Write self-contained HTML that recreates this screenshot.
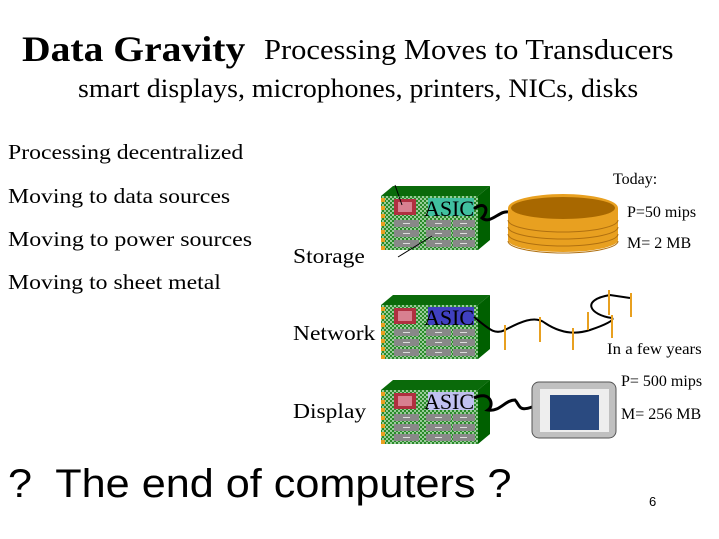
<!DOCTYPE html>
<html><head><style>
body{margin:0;width:719px;height:539px;background:#fff;position:relative;overflow:hidden;font-family:"Liberation Serif",serif;}
.t{position:absolute;white-space:nowrap;color:#000;transform-origin:0 0}
</style></head><body>
<div class="t" style="left:22px;top:28px;font-size:36px;font-weight:bold;transform:scaleX(1.1)">Data Gravity</div>
<div class="t" style="left:264px;top:35px;font-size:28px;transform:scaleX(1.09)">Processing Moves to Transducers</div>
<div class="t" style="left:78px;top:74px;font-size:26px;transform:scaleX(1.07)">smart displays, microphones, printers, NICs, disks</div>
<div class="t" style="left:8px;top:140px;font-size:21px;transform:scaleX(1.13)">Processing decentralized</div>
<div class="t" style="left:8px;top:184px;font-size:21px;transform:scaleX(1.13)">Moving to data sources</div>
<div class="t" style="left:8px;top:227px;font-size:21px;transform:scaleX(1.14)">Moving to power sources</div>
<div class="t" style="left:8px;top:270px;font-size:21px;transform:scaleX(1.13)">Moving to sheet metal</div>
<div class="t" style="left:293px;top:244px;font-size:21px;transform:scaleX(1.12)">Storage</div>
<div class="t" style="left:293px;top:321px;font-size:21px;transform:scaleX(1.12)">Network</div>
<div class="t" style="left:293px;top:399px;font-size:21px;transform:scaleX(1.12)">Display</div>
<div class="t" style="left:613px;top:171px;font-size:16px">Today:</div>
<div class="t" style="left:627px;top:204px;font-size:16px">P=50 mips</div>
<div class="t" style="left:627px;top:235px;font-size:16px">M= 2 MB</div>
<div class="t" style="left:607px;top:341px;font-size:16px;transform:scaleX(1.05)">In a few years</div>
<div class="t" style="left:621px;top:373px;font-size:16px">P= 500 mips</div>
<div class="t" style="left:621px;top:406px;font-size:16px">M= 256 MB</div>
<div class="t" style="left:8px;top:462px;font-size:40px;font-family:'Liberation Sans',sans-serif;transform:scaleX(1.08)">?&nbsp; The end of computers ?</div>
<div class="t" style="left:649px;top:494px;font-size:13px;font-family:'Liberation Sans',sans-serif">6</div>
<svg width="719" height="539" style="position:absolute;left:0;top:0">
<defs>
<pattern id="ck" width="4" height="4" patternUnits="userSpaceOnUse"><rect width="4" height="4" fill="#2a8a2a"/><rect width="2" height="2" fill="#9c9"/><rect x="2" y="2" width="2" height="2" fill="#9c9"/></pattern>
<g id="board">
<polygon points="381,10 393,0 490,0 478,10" fill="#0a6a0a"/>
<polygon points="478,10 490,0 490,54 478,64" fill="#006000"/>
<rect x="381" y="10" width="97" height="54" fill="url(#ck)"/>
<g fill="#e8a020"><rect x="381" y="12" width="4" height="4"/><rect x="381" y="20" width="4" height="4"/><rect x="381" y="28" width="4" height="4"/><rect x="381" y="36" width="4" height="4"/><rect x="381" y="44" width="4" height="4"/><rect x="381" y="52" width="4" height="4"/><rect x="381" y="60" width="4" height="4"/></g>
<rect x="394" y="13" width="22" height="16" fill="#b03040"/><rect x="398" y="16" width="14" height="10" fill="#d88090"/>
<g fill="#888"><rect x="394" y="34" width="25" height="7"/><rect x="426" y="34" width="25" height="7"/><rect x="453" y="34" width="22" height="7"/>
<rect x="394" y="44" width="25" height="7"/><rect x="426" y="44" width="25" height="7"/><rect x="453" y="44" width="22" height="7"/>
<rect x="394" y="54" width="25" height="7"/><rect x="426" y="54" width="25" height="7"/><rect x="453" y="54" width="22" height="7"/></g>
<g fill="#ddd"><rect x="403" y="37" width="7" height="1"/><rect x="435" y="37" width="7" height="1"/><rect x="460" y="37" width="7" height="1"/><rect x="403" y="47" width="7" height="1"/><rect x="435" y="47" width="7" height="1"/><rect x="460" y="47" width="7" height="1"/><rect x="403" y="57" width="7" height="1"/><rect x="435" y="57" width="7" height="1"/><rect x="460" y="57" width="7" height="1"/></g>
</g>
</defs>
<g transform="translate(0,186)"><use href="#board"/><rect x="428" y="12" width="46" height="18" fill="#40c0a0"/></g>
<g transform="translate(0,295)"><use href="#board"/><rect x="428" y="12" width="46" height="18" fill="#4040c0"/></g>
<g transform="translate(0,380)"><use href="#board"/><rect x="428" y="12" width="46" height="18" fill="#c0c0f0"/></g>
<g font-family="Liberation Serif" font-size="22" fill="#000">
<text x="424" y="216" textLength="50">ASIC</text><text x="424" y="325" textLength="50">ASIC</text><text x="424" y="409" textLength="50">ASIC</text></g>
<line x1="395" y1="185" x2="402" y2="205" stroke="#000"/><line x1="398" y1="257" x2="432" y2="236" stroke="#000"/>
<path d="M474,209 C485,200 490,210 482,218 C490,225 500,210 508,212" stroke="#000" stroke-width="3" fill="none"/>
<rect x="508" y="208" width="110" height="32" fill="#e8a020"/>
<ellipse cx="563" cy="240" rx="55" ry="12" fill="#e8a020"/>
<g stroke="#b07010" fill="none"><path d="M508,220 A55,12 0 0 0 618,220"/><path d="M508,227 A55,12 0 0 0 618,227"/><path d="M508,234 A55,12 0 0 0 618,234"/><path d="M508,241 A55,12 0 0 0 618,241"/></g>
<ellipse cx="563" cy="208" rx="55" ry="14" fill="#e8a020"/><ellipse cx="563" cy="208" rx="52" ry="11" fill="#a86800"/>
<path d="M474,317 C490,330 495,335 505,330 C520,322 535,315 545,323 C560,333 575,335 590,330 C605,325 615,320 612,318 C590,315 580,300 610,295 L630,298" stroke="#000" stroke-width="2" fill="none"/>
<g stroke="#e8a020" stroke-width="2"><line x1="505" y1="325" x2="505" y2="350"/><line x1="540" y1="317" x2="540" y2="342"/><line x1="573" y1="328" x2="573" y2="350"/><line x1="588" y1="312" x2="588" y2="330"/><line x1="609" y1="290" x2="609" y2="315"/><line x1="612" y1="315" x2="612" y2="338"/><line x1="631" y1="293" x2="631" y2="317"/></g>
<path d="M474,398 C490,390 495,405 488,410 C500,412 505,400 515,400 C520,405 518,412 532,407" stroke="#000" stroke-width="3" fill="none"/>
<rect x="532" y="382" width="84" height="56" rx="7" fill="#c0c0c0" stroke="#555"/>
<rect x="540" y="389" width="69" height="43" fill="#eee"/>
<rect x="550" y="395" width="49" height="35" fill="#2a4a80"/>
</svg>
</body></html>
